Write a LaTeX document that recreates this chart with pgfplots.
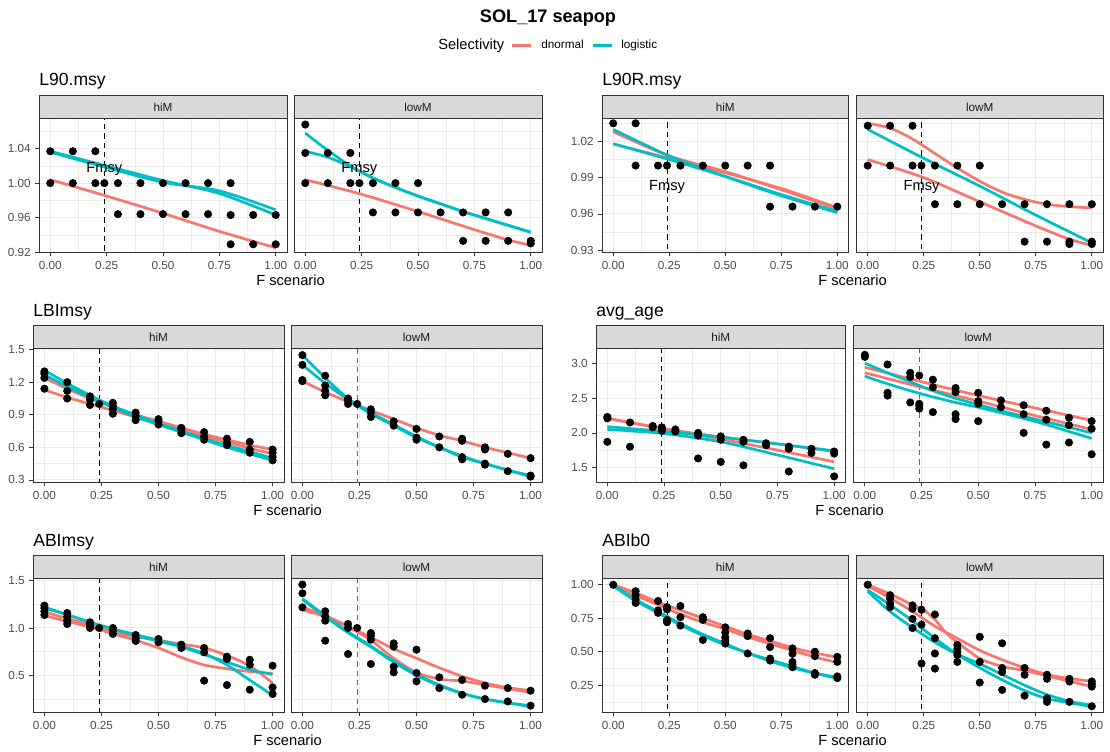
\documentclass[border=0pt]{standalone}
\usepackage{fontspec}
\setmainfont{Liberation Sans}
\usepackage{pgfplots}
\pgfplotsset{compat=1.18}
\usetikzlibrary{calc}
\definecolor{ggred}{HTML}{F8766D}
\definecolor{ggteal}{HTML}{00BFC4}
\definecolor{gg20}{HTML}{333333}
\definecolor{gg30}{HTML}{4D4D4D}
\definecolor{gg85}{HTML}{D9D9D9}
\definecolor{gg92}{HTML}{EBEBEB}
\definecolor{gg10}{HTML}{1A1A1A}
\pgfplotsset{
  facet/.style={
    scale only axis, anchor=south west, height=100.5pt,
    xmin=-0.05, xmax=1.05,
    xtick={0,0.25,0.5,0.75,1}, xticklabels={0.00,0.25,0.50,0.75,1.00},
    minor xtick={0.125,0.375,0.625,0.875},
    xmajorgrids, ymajorgrids, xminorgrids, yminorgrids,
    major grid style={draw=gg92, line width=0.75pt},
    minor grid style={draw=gg92, line width=0.4pt},
    axis line style={draw=gg20, line width=0.55pt},
    tick align=outside, tick pos=left,
    major tick length=2.75pt, minor tick length=0pt,
    tick style={draw=gg20, line width=0.55pt},
    ticklabel style={font=\fontsize{8.8}{10}\selectfont, text=gg30},
    axis background/.style={fill=white},
  },
  rgt/.style={ymajorticks=false},
  rl/.style={draw=ggred, line width=2.0pt, smooth, no marks},
  tl/.style={draw=ggteal, line width=2.0pt, smooth, no marks},
  pts/.style={only marks, mark=*, mark size=2.8pt, draw=black, fill=black},
  fm/.style={draw=black, dash pattern=on 4pt off 3pt, line width=0.7pt, no marks},
  fmg/.style={draw=black!60, dash pattern=on 4pt off 3pt, line width=0.7pt, no marks},
}
\newcommand\strip[2]{%
  \draw[draw=gg20, fill=gg85, line width=0.55pt] (#1.north west) rectangle ([yshift=17.25pt]#1.north east);
  \node[font=\fontsize{8.8}{10}\selectfont, text=gg10] at ($(#1.north west)!0.5!(#1.north east)+(0,8.625pt)$) {#2};}
\newcommand\ptitle[2]{\node[anchor=base west, font=\fontsize{13.2}{15}\selectfont, inner sep=0pt] at ([yshift=24.4pt]#1.north west) {#2};}
\newcommand\fxlab[2]{\node[anchor=base, font=\fontsize{11}{13}\selectfont, inner sep=0pt] at ($(#1.south west)!0.5!(#2.south east)+(0,-24.4pt)$) {F scenario};}
\newcommand\fmsy[1]{\node[font=\fontsize{11}{13}\selectfont] at (axis cs:0.24,#1) {Fmsy};}
\begin{document}
\begin{tikzpicture}
\fill[white] (0,0) rectangle (832.5pt,563.25pt);
% main title and legend
\node[anchor=base, font=\bfseries\fontsize{13.6}{15}\selectfont, inner sep=0pt] at (411pt,546.2pt) {SOL\_17 seapop};
\node[anchor=base west, font=\fontsize{11}{13}\selectfont, inner sep=0pt] at (328.5pt,525.75pt) {Selectivity};
\draw[ggred, line width=2pt] (384pt,529pt) -- (398.25pt,529pt);
\node[anchor=base west, font=\fontsize{8.8}{10}\selectfont, inner sep=0pt] at (405.75pt,527.2pt) {dnormal};
\draw[ggteal, line width=2pt] (444.75pt,529pt) -- (459pt,529pt);
\node[anchor=base west, font=\fontsize{8.8}{10}\selectfont, inner sep=0pt] at (465.75pt,527.2pt) {logistic};

%================ L90.msy
\begin{axis}[facet, name=a1, at={(29.25pt,373.875pt)}, width=186pt,
  ymin=0.9195, ymax=1.075, ytick={0.92,0.96,1.00,1.04}, yticklabels={0.92,0.96,1.00,1.04},
  minor ytick={0.94,0.98,1.02,1.06}]
\addplot[fm] coordinates {(0.24,0.9)(0.24,1.1)};
\addplot[rl] coordinates {(0,1.004)(0.25,0.985)(0.5,0.965)(0.75,0.944)(1,0.925)};
\addplot[tl] coordinates {(0,1.037)(0.25,1.020)(0.5,1.003)(0.75,0.988)(1,0.963)};
\addplot[tl] coordinates {(0,1.036)(0.25,1.018)(0.5,1.001)(0.75,0.991)(1,0.969)};
\addplot[pts] coordinates {(0,1.037)(0,1.000)(0.1,1.037)(0.1,1.000)(0.2,1.037)(0.2,1.000)(0.24,1.000)(0.3,1.000)(0.3,0.964)(0.4,1.000)(0.4,0.964)(0.5,1.000)(0.5,0.964)(0.6,1.000)(0.6,0.964)(0.7,1.000)(0.7,0.964)(0.8,1.000)(0.8,0.963)(0.8,0.929)(0.9,0.963)(0.9,0.929)(1,0.963)(1,0.929)};
\fmsy{1.016}
\end{axis}
\begin{axis}[facet, rgt, name=a2, at={(220.5pt,373.875pt)}, width=186pt,
  ymin=0.9195, ymax=1.075, ytick={0.92,0.96,1.00,1.04}, minor ytick={0.94,0.98,1.02,1.06}]
\addplot[fm] coordinates {(0.24,0.9)(0.24,1.1)};
\addplot[rl] coordinates {(0,1.004)(0.25,0.987)(0.5,0.967)(0.75,0.946)(0.9,0.934)(1,0.928)};
\addplot[tl] coordinates {(0,1.058)(0.1,1.038)(0.2,1.020)(0.3,1.006)(0.4,0.995)(0.5,0.985)(0.6,0.976)(0.7,0.967)(0.8,0.959)(0.9,0.951)(1,0.943)};
\addplot[tl] coordinates {(0,1.037)(0.1,1.030)(0.2,1.019)(0.3,1.006)(0.4,0.995)(0.5,0.985)(0.6,0.976)(0.7,0.967)(0.8,0.959)(0.9,0.951)(1,0.943)};
\addplot[pts] coordinates {(0,1.068)(0,1.035)(0,1.000)(0.1,1.035)(0.1,1.000)(0.2,1.035)(0.2,1.000)(0.24,1.000)(0.3,1.000)(0.3,0.966)(0.4,1.000)(0.4,0.966)(0.5,1.000)(0.5,0.966)(0.6,0.966)(0.7,0.966)(0.7,0.933)(0.8,0.966)(0.8,0.933)(0.9,0.966)(0.9,0.933)(1,0.933)(1,0.930)};
\fmsy{1.016}
\end{axis}
\strip{a1}{hiM}\strip{a2}{lowM}\ptitle{a1}{L90.msy}\fxlab{a1}{a2}

%================ L90R.msy
\begin{axis}[facet, name=b1, at={(451.5pt,373.875pt)}, width=184.875pt,
  ymin=0.928, ymax=1.039, ytick={0.93,0.96,0.99,1.02}, yticklabels={0.93,0.96,0.99,1.02},
  minor ytick={0.945,0.975,1.005,1.035}]
\addplot[fm] coordinates {(0.24,0.9)(0.24,1.1)};
\addplot[rl] coordinates {(0,1.028)(0.25,1.008)(0.5,0.995)(0.75,0.980)(1,0.964)};
\addplot[rl] coordinates {(0,1.018)(0.25,1.006)(0.5,0.994)(0.75,0.981)(1,0.965)};
\addplot[tl] coordinates {(0,1.030)(0.25,1.008)(0.5,0.991)(0.75,0.975)(1,0.961)};
\addplot[tl] coordinates {(0,1.018)(0.25,1.005)(0.5,0.991)(0.75,0.976)(1,0.962)};
\addplot[pts] coordinates {(0,1.035)(0.1,1.035)(0.1,1.000)(0.2,1.000)(0.24,1.000)(0.3,1.000)(0.4,1.000)(0.5,1.000)(0.6,1.000)(0.7,1.000)(0.7,0.966)(0.8,0.966)(0.9,0.966)(1,0.966)};
\fmsy{0.982}
\end{axis}
\begin{axis}[facet, rgt, name=b2, at={(642.375pt,373.875pt)}, width=184.875pt,
  ymin=0.928, ymax=1.039, ytick={0.93,0.96,0.99,1.02}, minor ytick={0.945,0.975,1.005,1.035}]
\addplot[fm] coordinates {(0.24,0.9)(0.24,1.1)};
\addplot[rl] coordinates {(0,1.035)(0.1,1.031)(0.2,1.022)(0.3,1.010)(0.4,0.998)(0.5,0.987)(0.6,0.978)(0.7,0.972)(0.8,0.968)(0.9,0.966)(1,0.965)};
\addplot[rl] coordinates {(0,1.005)(0.25,0.990)(0.5,0.970)(0.75,0.950)(0.9,0.939)(1,0.934)};
\addplot[tl] coordinates {(0,1.030)(0.25,1.006)(0.5,0.983)(0.75,0.959)(1,0.936)};
\addplot[pts] coordinates {(0,1.033)(0,1.000)(0.1,1.033)(0.1,1.000)(0.2,1.033)(0.2,1.000)(0.24,1.000)(0.3,1.000)(0.3,0.968)(0.4,1.000)(0.4,0.968)(0.5,1.000)(0.5,0.968)(0.6,0.968)(0.7,0.968)(0.7,0.937)(0.8,0.968)(0.8,0.937)(0.9,0.968)(0.9,0.937)(0.9,0.935)(1,0.968)(1,0.937)(1,0.935)};
\fmsy{0.982}
\end{axis}
\strip{b1}{hiM}\strip{b2}{lowM}\ptitle{b1}{L90R.msy}\fxlab{b1}{b2}

%================ LBImsy
\begin{axis}[facet, name=c1, at={(24.75pt,201.3pt)}, width=188.25pt,
  ymin=0.275, ymax=1.51, ytick={0.3,0.6,0.9,1.2,1.5}, yticklabels={0.3,0.6,0.9,1.2,1.5},
  minor ytick={0.45,0.75,1.05,1.35}]
\addplot[fm] coordinates {(0.24,0)(0.24,2)};
\addplot[rl] coordinates {(0,1.24)(0.1,1.14)(0.2,1.05)(0.3,0.97)(0.4,0.90)(0.5,0.84)(0.6,0.78)(0.7,0.72)(0.8,0.67)(0.9,0.62)(1,0.58)};
\addplot[rl] coordinates {(0,1.13)(0.1,1.06)(0.2,1.00)(0.3,0.94)(0.4,0.88)(0.5,0.82)(0.6,0.76)(0.7,0.70)(0.8,0.65)(0.9,0.59)(1,0.54)};
\addplot[tl] coordinates {(0,1.31)(0.1,1.19)(0.2,1.08)(0.3,0.98)(0.4,0.90)(0.5,0.82)(0.6,0.75)(0.7,0.68)(0.8,0.62)(0.9,0.56)(1,0.50)};
\addplot[tl] coordinates {(0,1.27)(0.1,1.16)(0.2,1.06)(0.3,0.97)(0.4,0.88)(0.5,0.81)(0.6,0.74)(0.7,0.67)(0.8,0.60)(0.9,0.54)(1,0.48)};
\addplot[pts] coordinates {(0,1.30)(0,1.28)(0,1.24)(0,1.14)(0.1,1.20)(0.1,1.12)(0.1,1.05)(0.2,1.07)(0.2,1.04)(0.2,0.99)(0.24,1.00)(0.3,1.01)(0.3,0.98)(0.3,0.95)(0.3,0.91)(0.4,0.92)(0.4,0.89)(0.4,0.85)(0.5,0.86)(0.5,0.84)(0.5,0.81)(0.6,0.78)(0.6,0.76)(0.6,0.73)(0.7,0.74)(0.7,0.70)(0.7,0.67)(0.8,0.68)(0.8,0.64)(0.8,0.62)(0.9,0.65)(0.9,0.58)(0.9,0.55)(1,0.58)(1,0.55)(1,0.51)(1,0.48)};
\end{axis}
\begin{axis}[facet, rgt, name=c2, at={(218.25pt,201.3pt)}, width=188.25pt,
  ymin=0.275, ymax=1.51, ytick={0.3,0.6,0.9,1.2,1.5}, minor ytick={0.45,0.75,1.05,1.35}]
\addplot[fmg] coordinates {(0.24,0)(0.24,2)};
\addplot[rl] coordinates {(0,1.21)(0.1,1.11)(0.2,1.02)(0.3,0.94)(0.4,0.86)(0.5,0.78)(0.6,0.71)(0.7,0.66)(0.8,0.60)(0.9,0.55)(1,0.50)};
\addplot[tl] coordinates {(0,1.45)(0.1,1.24)(0.2,1.05)(0.3,0.92)(0.4,0.81)(0.5,0.70)(0.6,0.60)(0.7,0.52)(0.8,0.45)(0.9,0.39)(1,0.34)};
\addplot[tl] coordinates {(0,1.36)(0.1,1.19)(0.2,1.04)(0.3,0.91)(0.4,0.80)(0.5,0.69)(0.6,0.60)(0.7,0.51)(0.8,0.45)(0.9,0.39)(1,0.33)};
\addplot[pts] coordinates {(0,1.45)(0,1.36)(0,1.22)(0,1.21)(0.1,1.26)(0.1,1.17)(0.1,1.12)(0.1,1.08)(0.2,1.05)(0.2,1.03)(0.2,1.00)(0.24,1.00)(0.3,0.95)(0.3,0.92)(0.3,0.88)(0.4,0.84)(0.4,0.80)(0.5,0.77)(0.5,0.69)(0.5,0.67)(0.6,0.70)(0.6,0.60)(0.7,0.68)(0.7,0.66)(0.7,0.51)(0.7,0.49)(0.8,0.60)(0.8,0.58)(0.8,0.45)(0.8,0.44)(0.9,0.54)(0.9,0.38)(1,0.50)(1,0.34)(1,0.33)};
\end{axis}
\strip{c1}{hiM}\strip{c2}{lowM}\ptitle{c1}{LBImsy}\fxlab{c1}{c2}

%================ avg_age
\begin{axis}[facet, name=d1, at={(447pt,201.3pt)}, width=187.125pt,
  ymin=1.28, ymax=3.22, ytick={1.5,2.0,2.5,3.0}, yticklabels={1.5,2.0,2.5,3.0},
  minor ytick={1.75,2.25,2.75}]
\addplot[fm] coordinates {(0.24,1)(0.24,4)};
\addplot[rl] coordinates {(0,2.21)(0.25,2.06)(0.5,1.94)(0.75,1.84)(1,1.73)};
\addplot[rl] coordinates {(0,2.21)(0.25,2.06)(0.5,1.91)(0.75,1.75)(1,1.58)};
\addplot[tl] coordinates {(0,2.09)(0.25,2.02)(0.5,1.94)(0.75,1.84)(1,1.74)};
\addplot[tl] coordinates {(0,2.05)(0.25,1.99)(0.5,1.87)(0.75,1.68)(1,1.48)};
\addplot[pts] coordinates {(0,2.23)(0,2.21)(0,1.87)(0.1,2.15)(0.1,1.80)(0.2,2.10)(0.2,2.08)(0.24,2.08)(0.24,2.05)(0.24,2.03)(0.3,2.05)(0.3,2.02)(0.4,2.00)(0.4,1.96)(0.4,1.63)(0.5,1.95)(0.5,1.90)(0.5,1.58)(0.6,1.90)(0.6,1.87)(0.6,1.53)(0.7,1.85)(0.7,1.82)(0.8,1.80)(0.8,1.77)(0.8,1.44)(0.9,1.77)(0.9,1.71)(1,1.73)(1,1.70)(1,1.37)};
\end{axis}
\begin{axis}[facet, rgt, name=d2, at={(640.125pt,201.3pt)}, width=187.125pt,
  ymin=1.28, ymax=3.22, ytick={1.5,2.0,2.5,3.0}, minor ytick={1.75,2.25,2.75}]
\addplot[fmg] coordinates {(0.24,1)(0.24,4)};
\addplot[rl] coordinates {(0,2.95)(0.25,2.74)(0.5,2.54)(0.75,2.36)(1,2.18)};
\addplot[rl] coordinates {(0,2.87)(0.25,2.66)(0.5,2.46)(0.75,2.25)(1,2.05)};
\addplot[tl] coordinates {(0,3.01)(0.1,2.87)(0.2,2.74)(0.3,2.61)(0.4,2.50)(0.5,2.41)(0.6,2.32)(0.7,2.24)(0.8,2.16)(0.9,2.08)(1,2.00)};
\addplot[tl] coordinates {(0,2.82)(0.1,2.71)(0.2,2.61)(0.3,2.52)(0.4,2.44)(0.5,2.37)(0.6,2.29)(0.7,2.21)(0.8,2.12)(0.9,2.02)(1,1.92)};
\addplot[pts] coordinates {(0,3.13)(0,3.10)(0.1,2.99)(0.1,2.58)(0.1,2.54)(0.2,2.87)(0.2,2.81)(0.2,2.44)(0.24,2.83)(0.24,2.42)(0.24,2.39)(0.24,2.35)(0.3,2.77)(0.3,2.66)(0.3,2.30)(0.4,2.65)(0.4,2.59)(0.4,2.27)(0.4,2.20)(0.5,2.58)(0.5,2.46)(0.5,2.42)(0.5,2.17)(0.6,2.47)(0.6,2.37)(0.7,2.40)(0.7,2.27)(0.7,2.00)(0.8,2.32)(0.8,2.19)(0.8,1.83)(0.9,2.22)(0.9,2.11)(0.9,1.86)(1,2.17)(1,2.06)(1,1.69)};
\end{axis}
\strip{d1}{hiM}\strip{d2}{lowM}\ptitle{d1}{avg\_age}\fxlab{d1}{d2}

%================ ABImsy
\begin{axis}[facet, name=e1, at={(24.75pt,28.725pt)}, width=188.25pt,
  ymin=0.106, ymax=1.52, ytick={0.5,1.0,1.5}, yticklabels={0.5,1.0,1.5},
  minor ytick={0.25,0.75,1.25}]
\addplot[fm] coordinates {(0.24,0)(0.24,2)};
\addplot[rl] coordinates {(0,1.17)(0.1,1.10)(0.2,1.03)(0.3,0.96)(0.4,0.91)(0.5,0.87)(0.6,0.83)(0.7,0.79)(0.8,0.71)(0.9,0.60)(1,0.42)};
\addplot[rl] coordinates {(0,1.13)(0.1,1.07)(0.2,1.01)(0.3,0.94)(0.4,0.87)(0.5,0.79)(0.6,0.69)(0.7,0.61)(0.8,0.57)(0.9,0.54)(1,0.52)};
\addplot[tl] coordinates {(0,1.21)(0.1,1.14)(0.2,1.06)(0.3,0.99)(0.4,0.93)(0.5,0.87)(0.6,0.81)(0.7,0.73)(0.8,0.61)(0.9,0.45)(1,0.29)};
\addplot[tl] coordinates {(0,1.22)(0.1,1.14)(0.2,1.06)(0.3,0.99)(0.4,0.92)(0.5,0.86)(0.6,0.80)(0.7,0.72)(0.8,0.64)(0.9,0.56)(1,0.51)};
\addplot[pts] coordinates {(0,1.236)(0,1.211)(0,1.176)(0,1.137)(0.1,1.158)(0.1,1.120)(0.1,1.077)(0.1,1.042)(0.2,1.060)(0.2,1.032)(0.2,1.000)(0.24,1.000)(0.3,1.000)(0.3,0.972)(0.3,0.937)(0.4,0.926)(0.4,0.891)(0.4,0.863)(0.5,0.884)(0.5,0.849)(0.6,0.824)(0.6,0.789)(0.7,0.789)(0.7,0.743)(0.7,0.444)(0.8,0.697)(0.8,0.673)(0.8,0.398)(0.9,0.665)(0.9,0.613)(0.9,0.349)(1,0.602)(1,0.373)(1,0.303)};
\end{axis}
\begin{axis}[facet, rgt, name=e2, at={(218.25pt,28.725pt)}, width=188.25pt,
  ymin=0.106, ymax=1.52, ytick={0.5,1.0,1.5}, minor ytick={0.25,0.75,1.25}]
\addplot[fmg] coordinates {(0.24,0)(0.24,2)};
\addplot[rl] coordinates {(0,1.22)(0.1,1.13)(0.2,1.02)(0.3,0.90)(0.4,0.78)(0.5,0.68)(0.6,0.58)(0.7,0.49)(0.8,0.42)(0.9,0.37)(1,0.34)};
\addplot[rl] coordinates {(0,1.19)(0.1,1.12)(0.2,1.01)(0.3,0.87)(0.4,0.68)(0.5,0.53)(0.6,0.46)(0.7,0.44)(0.8,0.40)(0.9,0.36)(1,0.32)};
\addplot[tl] coordinates {(0,1.31)(0.1,1.13)(0.2,0.96)(0.3,0.81)(0.4,0.65)(0.5,0.51)(0.6,0.40)(0.7,0.31)(0.8,0.25)(0.9,0.21)(1,0.18)};
\addplot[tl] coordinates {(0,1.30)(0.1,1.12)(0.2,0.95)(0.3,0.80)(0.4,0.64)(0.5,0.50)(0.6,0.39)(0.7,0.31)(0.8,0.25)(0.9,0.21)(1,0.17)};
\addplot[pts] coordinates {(0,1.458)(0,1.366)(0,1.218)(0.1,1.176)(0.1,1.123)(0.1,1.077)(0.1,0.866)(0.2,1.042)(0.2,1.000)(0.2,0.725)(0.24,1.000)(0.3,0.947)(0.3,0.919)(0.3,0.877)(0.3,0.620)(0.4,0.838)(0.4,0.803)(0.4,0.592)(0.4,0.532)(0.5,0.771)(0.5,0.525)(0.5,0.437)(0.6,0.479)(0.6,0.366)(0.7,0.451)(0.7,0.296)(0.8,0.391)(0.8,0.250)(0.9,0.366)(0.9,0.225)(1,0.338)(1,0.180)};
\end{axis}
\strip{e1}{hiM}\strip{e2}{lowM}\ptitle{e1}{ABImsy}\fxlab{e1}{e2}

%================ ABIb0
\begin{axis}[facet, name=f1, at={(451.5pt,28.725pt)}, width=184.875pt,
  ymin=0.045, ymax=1.045, ytick={0.25,0.5,0.75,1.0}, yticklabels={0.25,0.50,0.75,1.00},
  minor ytick={0.125,0.375,0.625,0.875}]
\addplot[fm] coordinates {(0.24,0)(0.24,2)};
\addplot[rl] coordinates {(0,1.00)(0.1,0.94)(0.2,0.87)(0.3,0.81)(0.4,0.75)(0.5,0.69)(0.6,0.63)(0.7,0.58)(0.8,0.53)(0.9,0.49)(1,0.46)};
\addplot[rl] coordinates {(0,1.00)(0.1,0.92)(0.2,0.85)(0.3,0.78)(0.4,0.72)(0.5,0.67)(0.6,0.61)(0.7,0.56)(0.8,0.51)(0.9,0.46)(1,0.42)};
\addplot[tl] coordinates {(0,1.00)(0.1,0.89)(0.2,0.80)(0.3,0.71)(0.4,0.63)(0.5,0.56)(0.6,0.49)(0.7,0.44)(0.8,0.39)(0.9,0.34)(1,0.30)};
\addplot[tl] coordinates {(0,0.99)(0.1,0.88)(0.2,0.79)(0.3,0.70)(0.4,0.62)(0.5,0.55)(0.6,0.49)(0.7,0.43)(0.8,0.38)(0.9,0.34)(1,0.31)};
\addplot[pts] coordinates {(0,1.00)(0.1,0.952)(0.1,0.922)(0.1,0.889)(0.1,0.864)(0.2,0.879)(0.2,0.808)(0.2,0.790)(0.24,0.833)(0.24,0.816)(0.24,0.737)(0.24,0.720)(0.3,0.841)(0.3,0.758)(0.3,0.695)(0.4,0.758)(0.4,0.737)(0.4,0.588)(0.5,0.682)(0.5,0.644)(0.5,0.606)(0.5,0.581)(0.5,0.561)(0.6,0.636)(0.6,0.616)(0.6,0.487)(0.7,0.601)(0.7,0.535)(0.7,0.449)(0.7,0.434)(0.8,0.525)(0.8,0.485)(0.8,0.424)(0.8,0.404)(0.8,0.384)(0.9,0.500)(0.9,0.467)(0.9,0.341)(0.9,0.328)(1,0.462)(1,0.424)(1,0.316)(1,0.303)};
\end{axis}
\begin{axis}[facet, rgt, name=f2, at={(642.375pt,28.725pt)}, width=184.875pt,
  ymin=0.045, ymax=1.045, ytick={0.25,0.5,0.75,1.0}, minor ytick={0.125,0.375,0.625,0.875}]
\addplot[fm] coordinates {(0.24,0)(0.24,2)};
\addplot[rl] coordinates {(0,1.00)(0.1,0.93)(0.2,0.85)(0.25,0.81)(0.3,0.74)(0.35,0.64)(0.4,0.57)(0.5,0.45)(0.6,0.39)(0.7,0.36)(0.8,0.32)(0.9,0.28)(1,0.24)};
\addplot[rl] coordinates {(0,0.99)(0.1,0.90)(0.2,0.80)(0.3,0.69)(0.4,0.60)(0.5,0.51)(0.6,0.44)(0.7,0.38)(0.8,0.33)(0.9,0.30)(1,0.28)};
\addplot[tl] coordinates {(0,0.96)(0.1,0.85)(0.2,0.73)(0.3,0.60)(0.4,0.48)(0.5,0.38)(0.6,0.29)(0.7,0.21)(0.8,0.15)(0.9,0.12)(1,0.09)};
\addplot[tl] coordinates {(0,0.95)(0.1,0.80)(0.2,0.68)(0.3,0.57)(0.4,0.48)(0.5,0.41)(0.6,0.33)(0.7,0.25)(0.8,0.18)(0.9,0.13)(1,0.10)};
\addplot[pts] coordinates {(0,1.00)(0.1,0.922)(0.1,0.896)(0.1,0.859)(0.1,0.833)(0.2,0.846)(0.2,0.821)(0.2,0.745)(0.2,0.677)(0.24,0.813)(0.24,0.702)(0.24,0.412)(0.3,0.778)(0.3,0.601)(0.3,0.487)(0.3,0.374)(0.4,0.551)(0.4,0.525)(0.4,0.500)(0.4,0.475)(0.4,0.424)(0.5,0.611)(0.5,0.424)(0.5,0.270)(0.6,0.563)(0.6,0.379)(0.6,0.348)(0.6,0.215)(0.7,0.379)(0.7,0.328)(0.7,0.172)(0.8,0.328)(0.8,0.298)(0.8,0.152)(0.8,0.126)(0.9,0.298)(0.9,0.278)(0.9,0.126)(1,0.278)(1,0.258)(1,0.240)(1,0.093)};
\end{axis}
\strip{f1}{hiM}\strip{f2}{lowM}\ptitle{f1}{ABIb0}\fxlab{f1}{f2}
\end{tikzpicture}
\end{document}
